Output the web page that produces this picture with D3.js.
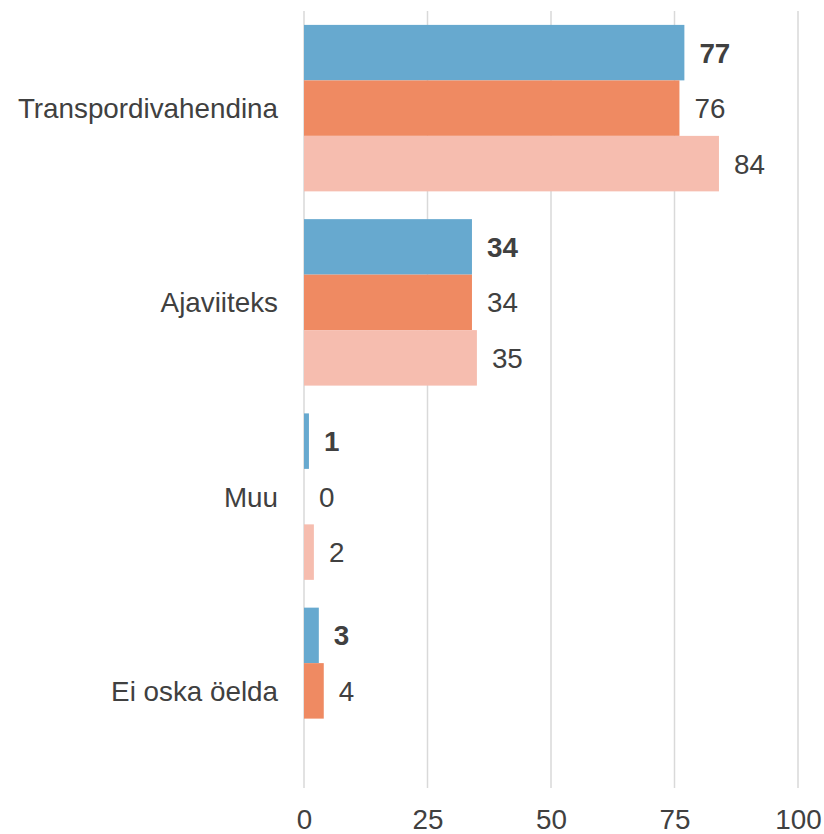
<!DOCTYPE html>
<html lang="et">
<head>
<meta charset="utf-8">
<title>Chart</title>
<style>
   html,body { margin:0; padding:0; background:white; }
   svg { display:block; font-family:"Liberation Sans", Arial, sans-serif; }
</style>
<script src="https://d3js.org/d3.v7.min.js"></script>
</head>
<body>
<script>
// categories and the three series (last group has no value for the third one)
const categories = ['Transpordivahendina','Ajaviiteks','Muu','Ei oska öelda'];
const series1 = [77,34,1,3];
const series2 = [76,34,0,4];
const series3 = [84,35,2,null];
const seriesColors = ['#67a9cf','#ef8a62','#f6bdaf'];
const xTicks = [0,25,50,75,100];

const width = 824, height = 834;
const margin = {top:11, right:26, bottom:46, left:304};
const fs = 27.8;

const rows = [];
categories.forEach((c,i) => {
   [series1,series2,series3].forEach((s,j) => rows.push({cat:c, s:j, v:s[i]}));
});

const x = d3.scaleLinear().domain([0,100]).range([margin.left, 798]);
const y = d3.scaleBand().domain(categories).range([margin.top, height-margin.bottom]).paddingInner(0.143).paddingOuter(0.0715);
const ys = d3.scaleBand().domain([0,1,2]).range([0, y.bandwidth()]);

const svg = d3.select('body').append('svg').attr('width',width).attr('height',height);

// vertical gridlines
svg.append('g').selectAll('line').data(xTicks).join('line')
   .attr('x1',d => x(d)).attr('x2',d => x(d))
   .attr('y1',margin.top).attr('y2',height-margin.bottom)
   .attr('stroke','#d9d9d9').attr('stroke-width',1.5);

// bars
const present = rows.filter(d => d.v !== null);
svg.append('g').selectAll('rect').data(present).join('rect')
   .attr('x',x(0))
   .attr('y',d => y(d.cat)+ys(d.s))
   .attr('width',d => x(d.v)-x(0))
   .attr('height',ys.bandwidth())
   .attr('fill',d => seriesColors[d.s]);

// value labels
svg.append('g').selectAll('text').data(present).join('text')
   .attr('x',d => x(d.v)+15)
   .attr('y',d => y(d.cat)+ys(d.s)+ys.bandwidth()/2)
   .attr('dy','0.36em')
   .attr('font-size',fs)
   .attr('font-weight',d => d.s===0?'bold':'normal')
   .attr('fill','#404040')
   .text(d => d.v);

// category labels
svg.append('g').selectAll('text').data(categories).join('text')
   .attr('x',x(0)-26)
   .attr('y',d => y(d)+y.bandwidth()/2)
   .attr('dy','0.36em')
   .attr('text-anchor','end')
   .attr('font-size',fs)
   .attr('fill','#404040')
   .text(d => d);

// x axis tick labels
const xAxis = svg.append('g')
   .attr('transform',`translate(0,${height-margin.bottom})`)
   .call(d3.axisBottom(x).tickValues(xTicks).tickSize(0).tickPadding(21));
xAxis.select('.domain').remove();
xAxis.selectAll('text')
   .attr('font-size',fs)
   .attr('font-family','"Liberation Sans", Arial, sans-serif')
   .attr('fill','#404040');
</script>
</body>
</html>
